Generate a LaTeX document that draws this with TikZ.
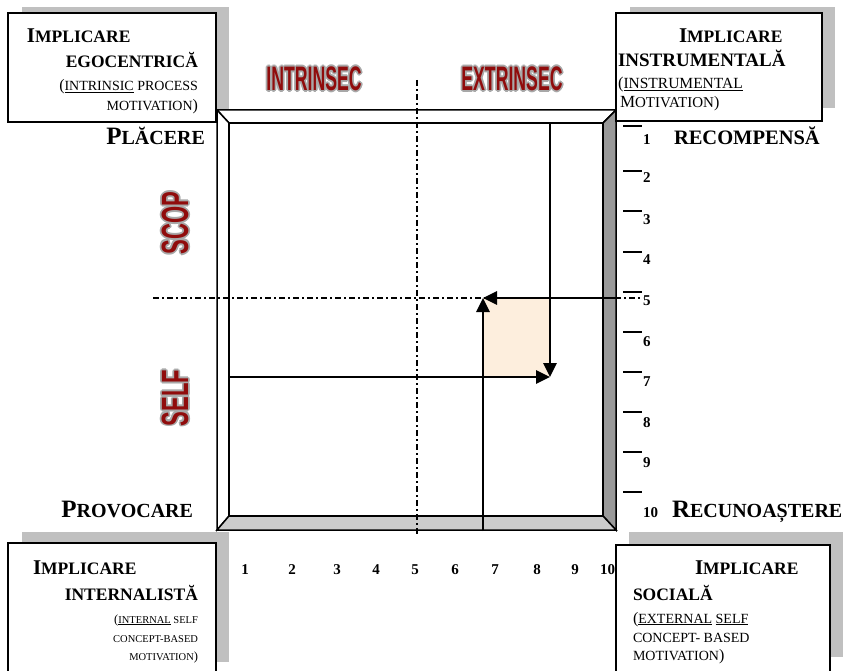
\documentclass[tikz,border=0pt]{standalone}
\usepackage{fontspec}
\setmainfont{Liberation Serif}
\newfontfamily\wafont{Liberation Sans}
\usetikzlibrary{arrows.meta,calc}
\definecolor{shadowgray}{HTML}{C0C0C0}
\definecolor{bevdark}{HTML}{999999}
\definecolor{bevlight}{HTML}{CCCCCC}
\definecolor{peach}{HTML}{FDEEDD}
\definecolor{wared}{HTML}{900C0C}
\definecolor{wagray}{HTML}{A8A8A8}
\newcommand\fs[1]{\fontsize{#1}{#1}\selectfont}
\newcommand\wordart[5]{%
  \foreach \a in {0,45,...,315}{\node[rotate=#3,#4,text=wagray] at ($(#2)+(\a:1.8)$) {#5};}
  \node[rotate=#3,#4,text=wared] (#1) at (#2) {#5};}
\begin{document}
\begin{tikzpicture}[x=1pt,y=-1pt,
  every node/.style={inner sep=0pt,outer sep=0pt},
  shadowbox/.style={fill=shadowgray,draw=none},
  labelbox/.style={fill=white,draw=black,line width=1.4pt},
  bev/.style={draw=black,line width=1.5pt,line join=miter},
  dashdot/.style={line width=2pt,dash pattern=on 6pt off 3pt on 2pt off 3pt},
  arr/.style={line width=2.8pt,-{Triangle[length=14pt,width=13pt]}},
  tick/.style={line width=1.5pt},
  wah/.style={font=\wafont\bfseries\fs{34},xscale=0.52},
  wav/.style={font=\wafont\bfseries\fs{38},xscale=0.58},
  num/.style={font=\bfseries\fs{15}},
  side/.style={font=\bfseries}
]
\useasboundingbox (0,0) rectangle (851,671);
% shadows
\fill[shadowbox] (22,7) rectangle (229,112);
\fill[shadowbox] (630,7) rectangle (835,108);
\fill[shadowbox] (22,532) rectangle (229,662);
\fill[shadowbox] (629,532) rectangle (843,657);
% frame
\coordinate (OTL) at (217,110); \coordinate (OTR) at (616,110);
\coordinate (OBR) at (616,530); \coordinate (OBL) at (217,530);
\coordinate (ITL) at (229,123); \coordinate (ITR) at (603,123);
\coordinate (IBR) at (603,516); \coordinate (IBL) at (229,516);
\filldraw[bev,fill=white] (OTL) -- (OTR) -- (ITR) -- (ITL) -- cycle;
\filldraw[bev,fill=white] (OTL) -- (ITL) -- (IBL) -- (OBL) -- cycle;
\filldraw[bev,fill=bevdark] (OTR) -- (OBR) -- (IBR) -- (ITR) -- cycle;
\filldraw[bev,fill=bevlight] (OBL) -- (IBL) -- (IBR) -- (OBR) -- cycle;
\filldraw[bev,fill=white] (ITL) rectangle (IBR);
% shaded square
\coordinate (sqA) at (483,298); \coordinate (sqB) at (550,377);
\fill[peach] (sqA) rectangle (sqB);
% dash-dot axes
\coordinate (vT) at (417,80); \coordinate (vB) at (417,534);
\coordinate (hL) at (153,298); \coordinate (hR) at (643,298);
\draw[dashdot] (vT) -- (vB);
\draw[dashdot] (hL) -- (hR);
% arrows
\coordinate (dS) at (550,123); \coordinate (rS) at (229,377);
\coordinate (lS) at (617,298); \coordinate (uS) at (483,531);
\draw[arr] (dS) -- (sqB);
\draw[arr] (rS) -- (sqB);
\draw[arr] (lS) -- (sqA);
\draw[arr] (uS) -- (sqA);
% right ticks
\foreach \y in {126,171,211,252,292,332,372,412,452,492} \draw[tick] (623,\y) -- (642,\y);
\foreach \n/\y in {2/183,3/224,4/264,5/305,6/346,7/386,8/427,9/467}
  \node[num,anchor=base west] (r\n) at (643,\y) {\n};
\node[num,anchor=base west] (r1) at (643,145) {1};
\node[num,anchor=base west] (r10) at (643,517) {10};
% bottom numbers
\foreach \n/\x in {1/245,2/292,3/337,4/376,5/415,6/455,7/495,8/537,9/575}
  \node[num,anchor=base] (b\n) at (\x,574) {\n};
\node[num,anchor=base west] (b10) at (600,574) {10};
% side labels
\node[side,anchor=base east] (plc) at (205,145) {\fs{25}P\fs{20}LĂCERE};
\node[side,anchor=base east] (prv) at (193,517) {\fs{25}P\fs{20}ROVOCARE};
\node[side,anchor=base west] (rcm) at (674,145) {\fs{20.5}RECOMPENSĂ};
\node[side,anchor=base west] (rcn) at (672,517) {\fs{25}R\fs{20}ECUNOAȘTERE};
% word art
\wordart{intr}{314,79}{0}{wah}{INTRINSEC}
\wordart{extr}{512,79}{0}{wah}{EXTRINSEC}
\wordart{scop}{175,223}{90}{wav}{SCOP}
\wordart{self}{175,398}{90}{wav}{SELF}
% boxes
\draw[labelbox] (8,13) rectangle (216,122);
\draw[labelbox] (616,13) rectangle (822,121);
\draw[labelbox] (8,543) rectangle (216,690);
\draw[labelbox] (616,545) rectangle (830,690);
% TL text
\node[anchor=base west] (tl1) at (27,43) {\bfseries\fs{21}I\fs{17.5}MPLICARE};
\node[anchor=base east] (tl2) at (198,68) {\bfseries\fs{17.5}EGOCENTRICĂ};
\node[anchor=base east] (tl3) at (198,91) {\fs{16}(\fs{14}\underline{INTRINSIC} PROCESS};
\node[anchor=base east] (tl4) at (198,111) {\fs{14}MOTIVATION\fs{16})};
% TR text
\node[anchor=base west] (tr1) at (679,43) {\bfseries\fs{21}I\fs{17.5}MPLICARE};
\node[anchor=base west] (tr2) at (618,67) {\bfseries\fs{19}INSTRUMENTALĂ};
\node[anchor=base west] (tr3) at (618,89) {\fs{16.5}(\fs{15.5}\underline{INSTRUMENTAL}};
\node[anchor=base west] (tr4) at (620,108) {\fs{17}M\fs{15}OTIVATION\fs{16})};
% BL text
\node[anchor=base west] (bl1) at (33,574) {\bfseries\fs{21}I\fs{17.5}MPLICARE};
\node[anchor=base east] (bl2) at (198,600) {\bfseries\fs{17.5}INTERNALISTĂ};
\node[anchor=base east] (bl3) at (198,623) {\fs{12.5}(\fs{10.5}\underline{INTERNAL} SELF};
\node[anchor=base east] (bl4) at (198,642) {\fs{10.5}CONCEPT-BASED};
\node[anchor=base east] (bl5) at (198,660) {\fs{10.5}MOTIVATION\fs{12.5})};
% BR text
\node[anchor=base west] (br1) at (695,574) {\bfseries\fs{21}I\fs{17.5}MPLICARE};
\node[anchor=base west] (br2) at (633,600) {\bfseries\fs{17.5}SOCIALĂ};
\node[anchor=base west] (br3) at (633,623) {\fs{16}(\fs{14}\underline{EXTERNAL} \underline{SELF}};
\node[anchor=base west] (br4) at (633,642) {\fs{14}CONCEPT- BASED};
\node[anchor=base west] (br5) at (633,660) {\fs{14}MOTIVATION\fs{16})};
\end{tikzpicture}
\end{document}
